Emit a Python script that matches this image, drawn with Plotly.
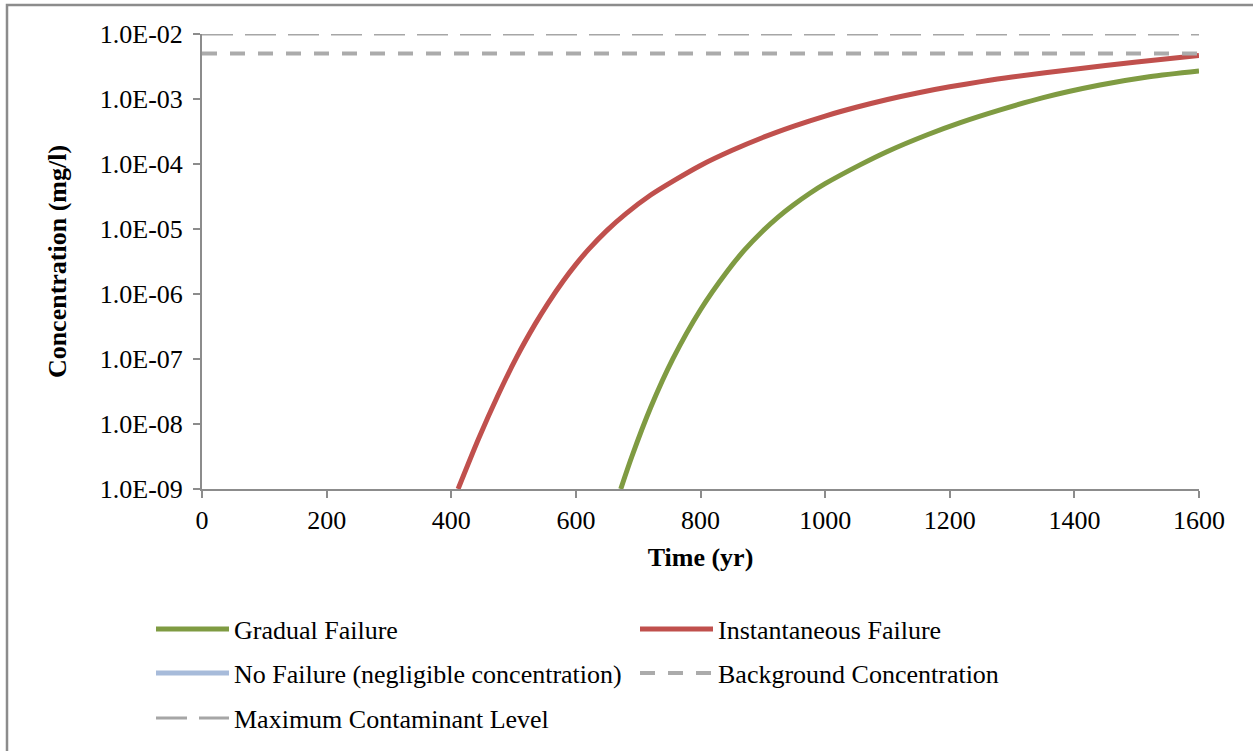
import plotly.graph_objects as go

# ---- data ----
years_gradual = [672, 690, 720, 756, 800, 843, 870, 900, 925, 949, 975, 1000, 1056, 1100,
                 1164, 1217, 1281, 1350, 1441, 1520, 1600]
conc_gradual = [1.0e-9, 3.19e-9, 1.79e-8, 1.02e-7, 5.73e-7, 2.24e-6, 4.68e-6, 9.33e-6,
                1.54e-5, 2.34e-5, 3.52e-5, 4.98e-5, 9.7e-5, 1.56e-4, 2.82e-4, 4.33e-4,
                6.8e-4, 1.05e-3, 1.64e-3, 2.2e-3, 2.7e-3]

years_instant = [411, 444, 475, 505, 535, 555, 580, 600, 620, 650, 680, 720, 760, 800, 850,
                 900, 950, 1000, 1050, 1100, 1150, 1200, 1250, 1300, 1400, 1500, 1600]
conc_instant = [1.0e-9, 5.97e-9, 2.77e-8, 1.07e-7, 3.50e-7, 7.14e-7, 1.60e-6, 2.86e-6,
                4.81e-6, 9.53e-6, 1.71e-5, 3.33e-5, 5.75e-5, 9.51e-5, 1.61e-4, 2.56e-4,
                3.83e-4, 5.47e-4, 7.46e-4, 9.84e-4, 1.25e-3, 1.54e-3, 1.85e-3, 2.18e-3,
                2.87e-3, 3.70e-3, 4.66e-3]

years_none = [0, 1600]
conc_none = [0, 0]  # negligible concentration (not visible on log axis)

years_ref = [0, 1600]
background_conc = [5.0e-3, 5.0e-3]
mcl_conc = [1.0e-2, 1.0e-2]

x_ticks = [0, 200, 400, 600, 800, 1000, 1200, 1400, 1600]
y_ticks = [1e-9, 1e-8, 1e-7, 1e-6, 1e-5, 1e-4, 1e-3, 1e-2]
y_tick_text = ["1.0E-09", "1.0E-08", "1.0E-07", "1.0E-06", "1.0E-05",
               "1.0E-04", "1.0E-03", "1.0E-02"]

FONT = "Liberation Serif, Times New Roman, serif"
AXIS_GRAY = "#8C8C8C"
W, H = 1253, 751

fig = go.Figure()
fig.add_trace(go.Scatter(x=years_gradual, y=conc_gradual, mode="lines",
                         name="Gradual Failure",
                         line=dict(color="#7F9B42", width=5, shape="spline", smoothing=0.8),
                         legend="legend"))
fig.add_trace(go.Scatter(x=years_instant, y=conc_instant, mode="lines",
                         name="Instantaneous Failure",
                         line=dict(color="#C0504D", width=5, shape="spline", smoothing=0.8),
                         legend="legend"))
fig.add_trace(go.Scatter(x=years_none, y=conc_none, mode="lines",
                         name="No Failure (negligible concentration)",
                         line=dict(color="#A7BBDA", width=5), legend="legend2"))
fig.add_trace(go.Scatter(x=years_ref, y=background_conc, mode="lines",
                         name="Background Concentration",
                         line=dict(color="#ABABAB", width=4, dash="15px,13px"), legend="legend2"))
fig.add_trace(go.Scatter(x=years_ref, y=mcl_conc, mode="lines",
                         name="Maximum Contaminant Level",
                         line=dict(color="#A6A6A6", width=3, dash="31px,12px"), legend="legend3"))

leg_common = dict(orientation="h", xref="container", yref="container",
                  xanchor="left", yanchor="middle", itemwidth=73,
                  entrywidth=396, entrywidthmode="pixels",
                  font=dict(family=FONT, size=26, color="black"),
                  bgcolor="rgba(0,0,0,0)", itemclick=False, itemdoubleclick=False)

fig.update_layout(
    width=W, height=H,
    margin=dict(l=202, r=54, t=34, b=262),
    paper_bgcolor="white", plot_bgcolor="white",
    font=dict(family=FONT, size=26, color="black"),
    showlegend=True,
    legend=dict(**leg_common, x=151 / W, y=(H - 629) / H),
    legend2=dict(**leg_common, x=151 / W, y=(H - 673) / H),
    legend3=dict(**leg_common, x=151 / W, y=(H - 718) / H),
    xaxis=dict(range=[0, 1600], tickvals=x_ticks, showgrid=False, zeroline=False,
               showline=True, linecolor=AXIS_GRAY, linewidth=2,
               ticks="outside", ticklen=7, tickwidth=2, tickcolor=AXIS_GRAY,
               tickfont=dict(family=FONT, size=26, color="black"),
               title=dict(text="<b>Time (yr)</b>", font=dict(family=FONT, size=26, color="black"),
                          standoff=14)),
    yaxis=dict(type="log", range=[-9, -2], tickvals=y_ticks, ticktext=y_tick_text,
               showgrid=False, zeroline=False, showline=True, linecolor=AXIS_GRAY, linewidth=2,
               ticks="outside", ticklen=7, tickwidth=2, tickcolor=AXIS_GRAY,
               ticklabelstandoff=5,
               tickfont=dict(family=FONT, size=26, color="black"),
               title=dict(text="<b>Concentration (mg/l)</b>",
                          font=dict(family=FONT, size=26, color="black"), standoff=26)),
    shapes=[dict(type="rect", xref="paper", yref="paper",
                 x0=(7 - 202) / 997, x1=1.3, y0=-0.8, y1=(489 - 5) / 455,
                 line=dict(color="#8C8C8C", width=2.5), fillcolor="rgba(0,0,0,0)", layer="below")],
)

fig.write_html("out.html", config={"displayModeBar": False},
               post_script="document.body.style.margin='0px';")
